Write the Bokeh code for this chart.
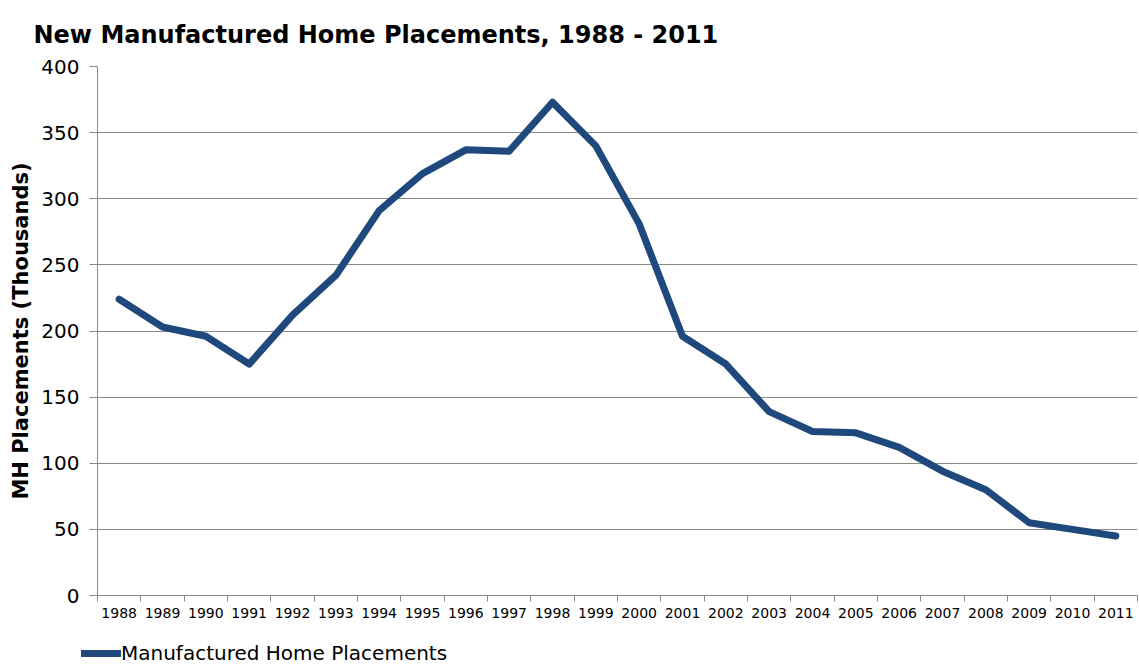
from bokeh.plotting import figure
from bokeh.models import Legend, LegendItem, FixedTicker, Range1d
from bokeh.layouts import column, row
from bokeh.embed import file_html
from bokeh.resources import INLINE

years = list(range(1988, 2012))
placements = [224, 203, 196, 175, 212, 242, 291, 319, 337, 336, 373, 340,
              281, 196, 175, 139, 124, 123, 112, 94, 80, 55, 50, 45]
y_ticks = [0, 50, 100, 150, 200, 250, 300, 350, 400]
series_name = "Manufactured Home Placements"
title_text = "New Manufactured Home Placements, 1988 - 2011"
y_label = "MH Placements (Thousands)"

FONT = "DejaVu Sans"
GRAY = "#898989"
BLUE = "#1F497D"

p = figure(width=1139, height=629, output_backend="svg", toolbar_location=None,
           x_range=Range1d(years[0] - 0.5, years[-1] + 0.5),
           y_range=Range1d(y_ticks[0], y_ticks[-1]),
           min_border_left=97, min_border_right=2, min_border_top=66,
           min_border_bottom=34)

p.title.text = title_text
p.title.text_font = FONT
p.title.text_font_size = "24px"
p.title.text_font_style = "bold"
p.title.text_color = "black"
p.title.offset = -64
p.title.standoff = 36

p.outline_line_color = None
p.xgrid.grid_line_color = None
p.ygrid.grid_line_color = GRAY
p.ygrid.grid_line_width = 1

line_style = dict(line_color=BLUE, line_width=7, line_join="round", line_cap="round")
r = p.line(years, placements, **line_style)

# y axis
ya = p.yaxis[0]
ya.ticker = FixedTicker(ticks=y_ticks)
ya.axis_line_color = GRAY
ya.major_tick_line_color = GRAY
ya.major_tick_in = 0
ya.major_tick_out = 8
ya.minor_tick_line_color = None
ya.major_label_text_font = FONT
ya.major_label_text_font_size = "20px"
ya.major_label_text_color = "black"
ya.major_label_standoff = 10
ya.axis_label = y_label
ya.axis_label_text_font = FONT
ya.axis_label_text_font_size = "21px"
ya.axis_label_text_font_style = "bold"
ya.axis_label_text_color = "black"
ya.axis_label_standoff = 5

# x axis
xa = p.xaxis[0]
xa.ticker = FixedTicker(ticks=years, minor_ticks=[y - 0.5 for y in years] + [years[-1] + 0.5])
xa.axis_line_color = GRAY
xa.major_tick_line_color = None
xa.minor_tick_line_color = GRAY
xa.minor_tick_in = 0
xa.minor_tick_out = 6
xa.major_label_text_font = FONT
xa.major_label_text_font_size = "14px"
xa.major_label_text_color = "black"
xa.major_label_standoff = 6

# legend strip below the chart (its line renderer sits outside the strip's view)
pl = figure(width=1139, height=37, output_backend="svg", toolbar_location=None,
            x_axis_type=None, y_axis_type=None,
            x_range=Range1d(years[0] - 0.5, years[-1] + 0.5),
            y_range=Range1d(-2, -1),
            min_border_left=0, min_border_right=0, min_border_top=0, min_border_bottom=0)
pl.outline_line_color = None
pl.xgrid.grid_line_color = None
pl.ygrid.grid_line_color = None
rl = pl.line(years, placements, **line_style)
legend = Legend(items=[LegendItem(label=series_name, renderers=[rl])],
                location=(81, 1), orientation="horizontal",
                label_text_font=FONT, label_text_font_size="20px",
                label_text_color="black", glyph_width=40, glyph_height=18,
                label_standoff=0, padding=0, margin=0, spacing=0,
                border_line_color=None, background_fill_alpha=0)
pl.add_layout(legend, "center")

layout = column(p, row(pl, spacing=0), spacing=0)
open("out.html", "w").write(file_html(layout, INLINE))
